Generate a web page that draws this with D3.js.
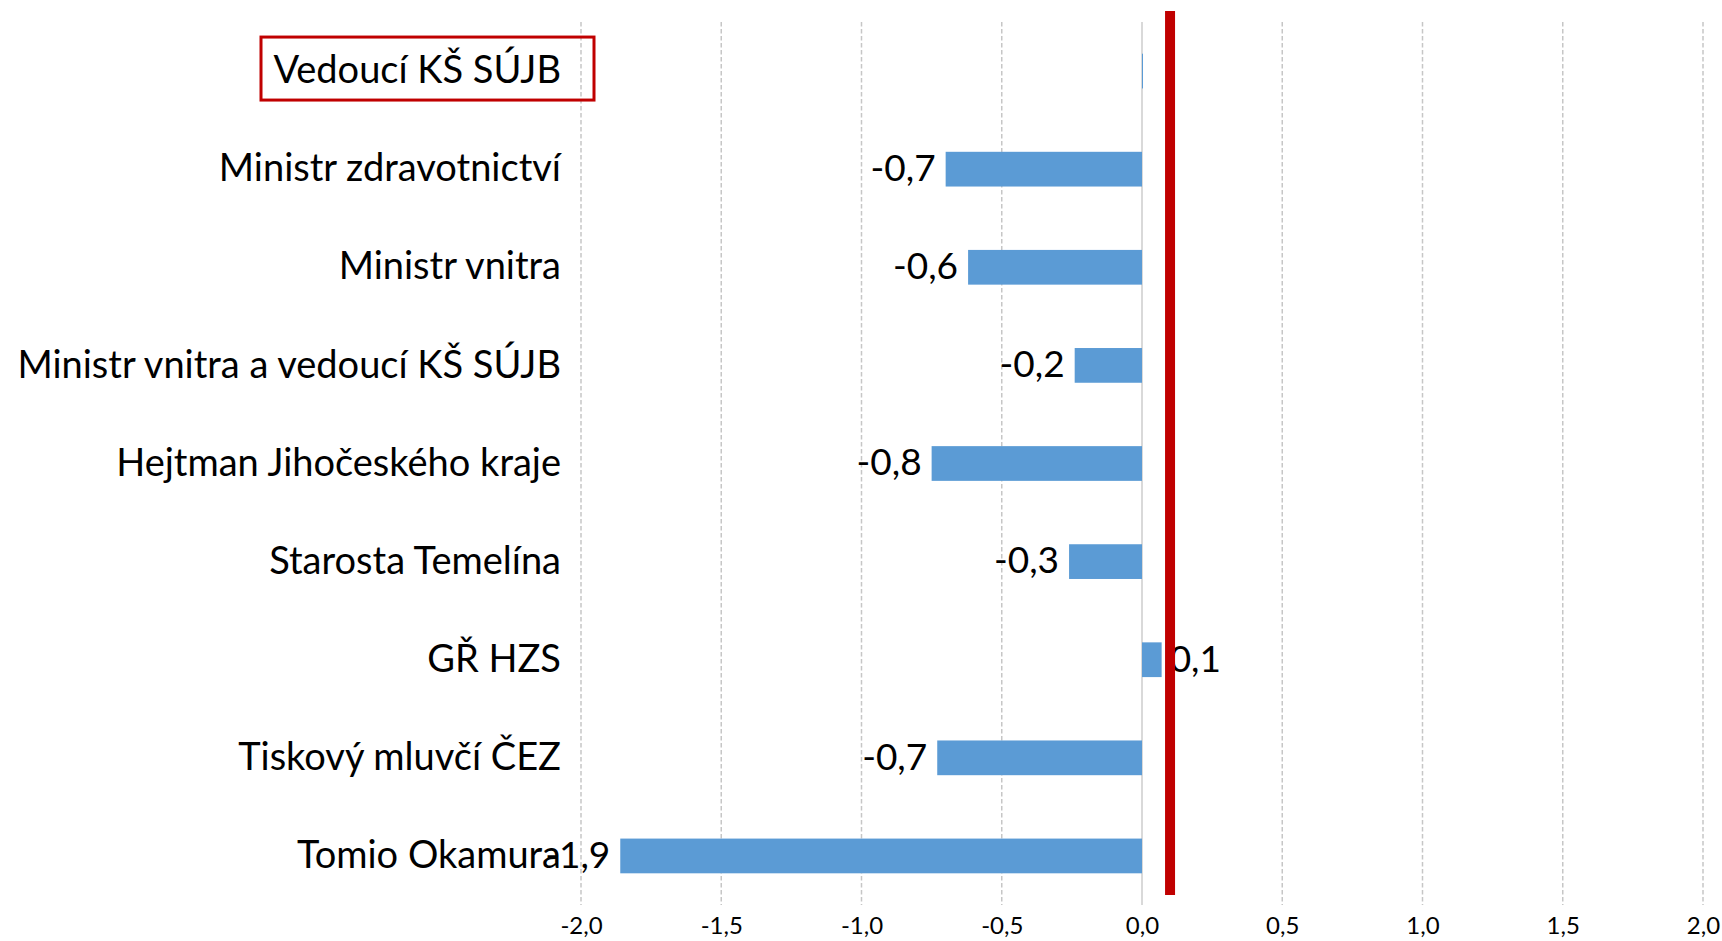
<!DOCTYPE html>
<html>
<head>
<meta charset="utf-8">
<script src="https://cdn.jsdelivr.net/npm/d3@7/dist/d3.min.js"></script>
<style>
  html, body { margin: 0; padding: 0; background: #fff; }
  svg { display: block; }
</style>
</head>
<body>
<svg id="chart" width="1722" height="941"></svg>
<script>
// ---- data ----
const categories = [
  "Vedoucí KŠ SÚJB",
  "Ministr zdravotnictví",
  "Ministr vnitra",
  "Ministr vnitra a vedoucí KŠ SÚJB",
  "Hejtman Jihočeského kraje",
  "Starosta Temelína",
  "GŘ HZS",
  "Tiskový mluvčí ČEZ",
  "Tomio Okamura"
];
const values = [0, -0.70, -0.62, -0.24, -0.75, -0.26, 0.07, -0.73, -1.86];
const tickValues = [-2, -1.5, -1, -0.5, 0, 0.5, 1, 1.5, 2];
const referenceValue = 0.1;
const highlighted = "Vedoucí KŠ SÚJB";

// ---- layout ----
const plot = { left: 581, right: 1703, top: 22, bottom: 905 };
const svg = d3.select("#chart");
const FONT = "Lato, 'Open Sans', sans-serif";

const locale = d3.formatLocale({ decimal: ",", thousands: " ", grouping: [3], currency: ["", ""], minus: "-" });
const fmt = locale.format(".1f");

const x = d3.scaleLinear().domain([-2, 2]).range([plot.left, plot.right]);
const y = d3.scaleBand().domain(categories).range([plot.top, plot.bottom])
  .paddingInner(0.646).paddingOuter(0.323);

// gridlines
svg.append("g").selectAll("line").data(tickValues.filter(d => d !== 0)).join("line")
  .attr("x1", d => x(d)).attr("x2", d => x(d))
  .attr("y1", plot.top).attr("y2", plot.bottom)
  .attr("stroke", "#c6c6c6").attr("stroke-width", 1.5)
  .attr("stroke-dasharray", "4.5,2.5");

// zero axis line
svg.append("line")
  .attr("x1", x(0)).attr("x2", x(0))
  .attr("y1", plot.top).attr("y2", plot.bottom)
  .attr("stroke", "#d9d9d9").attr("stroke-width", 2);

// x axis tick labels
const xAxis = d3.axisBottom(x).tickValues(tickValues).tickFormat(fmt).tickSize(0).tickPadding(0);
const gx = svg.append("g").attr("transform", `translate(0,${plot.bottom + 12})`).call(xAxis);
gx.select(".domain").remove();
gx.selectAll("text")
  .attr("font-family", FONT).attr("font-size", 24).attr("fill", "#000")
  .attr("dy", "0.71em");

// bars
const data = categories.map((c, i) => ({ c, v: values[i] }));
svg.append("g").selectAll("rect").data(data).join("rect")
  .attr("x", d => x(Math.min(0, d.v)))
  .attr("width", d => Math.max(1, Math.abs(x(d.v) - x(0))))
  .attr("y", d => y(d.c))
  .attr("height", y.bandwidth())
  .attr("fill", "#5b9bd5");

// category labels
const catG = svg.append("g");
catG.selectAll("text").data(categories).join("text")
  .attr("x", 561)
  .attr("y", d => y(d) + y.bandwidth() / 2)
  .attr("dy", "0.32em")
  .attr("text-anchor", "end")
  .attr("font-family", FONT).attr("font-size", 38).attr("fill", "#000")
  .text(d => d);

// value labels
svg.append("g").selectAll("text").data(data.filter(d => d.v !== 0)).join("text")
  .attr("x", d => d.v < 0 ? x(d.v) - 10 : x(d.v) + 8)
  .attr("y", d => y(d.c) + y.bandwidth() / 2)
  .attr("dy", "0.32em")
  .attr("text-anchor", d => d.v < 0 ? "end" : "start")
  .attr("font-family", FONT).attr("font-size", 37).attr("fill", "#000")
  .text(d => fmt(d.v));

// highlight box around the first category label
const hl = catG.selectAll("text").filter(d => d === highlighted).node().getBBox();
const cy = y(highlighted) + y.bandwidth() / 2;
const boxRight = hl.x + hl.width + 33;
const boxW = 333;
svg.append("rect")
  .attr("x", boxRight - boxW).attr("y", cy - 34)
  .attr("width", boxW).attr("height", 63)
  .attr("fill", "none").attr("stroke", "#c00000").attr("stroke-width", 3);

// reference line
svg.append("line")
  .attr("x1", x(referenceValue)).attr("x2", x(referenceValue))
  .attr("y1", plot.top - 11).attr("y2", plot.bottom - 10)
  .attr("stroke", "#c00000").attr("stroke-width", 10);
</script>
</body>
</html>
